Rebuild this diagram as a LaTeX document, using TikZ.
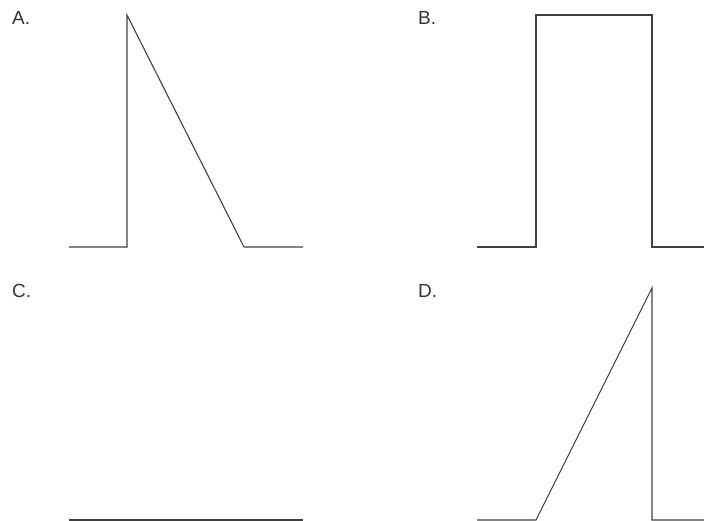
\documentclass[tikz,border=0pt]{standalone}
\usepackage{fontspec}
\setmainfont{Liberation Sans}
\begin{document}
\begin{tikzpicture}[x=1pt,y=-1pt,
  wave/.style={draw=black!75,line width=1.1pt,line join=miter},
  lbl/.style={anchor=base west,inner sep=0pt,font=\fontsize{19}{22}\selectfont,text=black!80}]
\useasboundingbox (0,0) rectangle (704,521);
\node[lbl] (la) at (12,25) {A.};
\node[lbl] (lb) at (418,25) {B.};
\node[lbl] (lc) at (12,298) {C.};
\node[lbl] (ld) at (418,298) {D.};
% A
\coordinate (a0) at (69,247);
\coordinate (a1) at (127,247);
\coordinate (a2) at (127,15);
\coordinate (a3) at (244,247);
\coordinate (a4) at (303,247);
\draw[wave] (a0) -- (a1) -- (a2) -- (a3) -- (a4);
% B
\coordinate (b0) at (477,247);
\coordinate (b1) at (536,247);
\coordinate (b2) at (536,15);
\coordinate (b3) at (652,15);
\coordinate (b4) at (652,247);
\coordinate (b5) at (704,247);
\draw[wave] (b0) -- (b1) -- (b2) -- (b3) -- (b4) -- (b5);
% C
\coordinate (c0) at (69,520);
\coordinate (c1) at (303,520);
\draw[wave] (c0) -- (c1);
% D
\coordinate (d0) at (477,520);
\coordinate (d1) at (536,520);
\coordinate (d2) at (652,288);
\coordinate (d3) at (652,520);
\coordinate (d4) at (704,520);
\draw[wave] (d0) -- (d1) -- (d2) -- (d3) -- (d4);
\end{tikzpicture}
\end{document}
